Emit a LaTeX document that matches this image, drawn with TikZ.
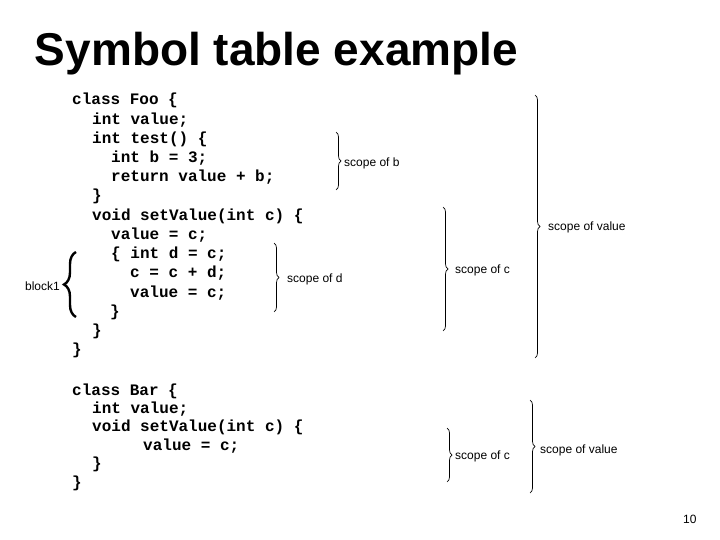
\documentclass[tikz,border=0pt]{standalone}
\usepackage{fontspec}
\setmainfont{Liberation Sans}
\newfontfamily\codefam{Liberation Mono}
\usetikzlibrary{decorations.pathreplacing}
\tikzset{
  code/.style={font=\codefam\bfseries\fontsize{16}{19}\selectfont, inner sep=0pt, anchor=base west},
  lbl/.style={font=\fontsize{12}{14}\selectfont, inner sep=0pt, anchor=west},
  scopebrace/.style={decorate, decoration={brace, amplitude=5pt}, line width=0.7pt},
  blockbrace/.style={decorate, decoration={brace, amplitude=12pt}, line width=2.4pt},
  titlestyle/.style={font=\bfseries\fontsize{46}{50}\selectfont, inner sep=0pt, anchor=base}
}
\begin{document}
\begin{tikzpicture}[x=1pt,y=-1pt]
\useasboundingbox (0,0) rectangle (720,540);
\fill[white] (0,0) rectangle (720,540);
\node[titlestyle] (title) at (276.5,66) {Symbol table example};
% class Foo
\node[code] (f0)  at (72,105)   {class Foo \{};
\node[code] (f1)  at (92,124.2) {int value;};
\node[code] (f2)  at (92,143.4) {int test() \{};
\node[code] (f3)  at (111,162.6) {int b = 3;};
\node[code] (f4)  at (111,181.8) {return value + b;};
\node[code] (f5)  at (92,201)   {\}};
\node[code] (f6)  at (92,220.2) {void setValue(int c) \{};
\node[code] (f7)  at (111,239.4) {value = c;};
\node[code] (f8)  at (111,258.6) {\{ int d = c;};
\node[code] (f9)  at (130,277.8) {c = c + d;};
\node[code] (f10) at (130,297)  {value = c;};
\node[code] (f11) at (110,316.2) {\}};
\node[code] (f12) at (92,335.4) {\}};
\node[code] (f13) at (72,354.6) {\}};
% class Bar
\node[code] (g0) at (72,395)   {class Bar \{};
\node[code] (g1) at (92,413.4) {int value;};
\node[code] (g2) at (92,431.8) {void setValue(int c) \{};
\node[code] (g3) at (143,450.2) {value = c;};
\node[code] (g4) at (92,468.6) {\}};
\node[code] (g5) at (72,487)   {\}};
% brace end points
\coordinate (bT) at (336,132);  \coordinate (bB) at (336,190);
\coordinate (dT) at (274,243);  \coordinate (dB) at (274,312);
\coordinate (cT) at (443,207);  \coordinate (cB) at (443,331);
\coordinate (vT) at (535,95);   \coordinate (vB) at (535,358);
\coordinate (c2T) at (447,428); \coordinate (c2B) at (447,482);
\coordinate (v2T) at (530,400); \coordinate (v2B) at (530,493);
\coordinate (kT) at (76,252);   \coordinate (kB) at (76,317);
\draw[scopebrace] (bT) -- (bB);
\draw[scopebrace] (dT) -- (dB);
\draw[scopebrace] (cT) -- (cB);
\draw[scopebrace] (vT) -- (vB);
\draw[scopebrace] (c2T) -- (c2B);
\draw[scopebrace] (v2T) -- (v2B);
\draw[blockbrace] (kB) -- (kT);
% labels
\node[lbl] (lb) at (344,163) {scope of b};
\node[lbl] (ld) at (287,279) {scope of d};
\node[lbl] (lc) at (455,270) {scope of c};
\node[lbl] (lv) at (548,227) {scope of value};
\node[lbl] (lc2) at (455,456) {scope of c};
\node[lbl] (lv2) at (540,450) {scope of value};
\node[lbl, anchor=east] (lk) at (60,286) {block1};
\node[lbl] (pg) at (683,519) {10};
\end{tikzpicture}
\end{document}
